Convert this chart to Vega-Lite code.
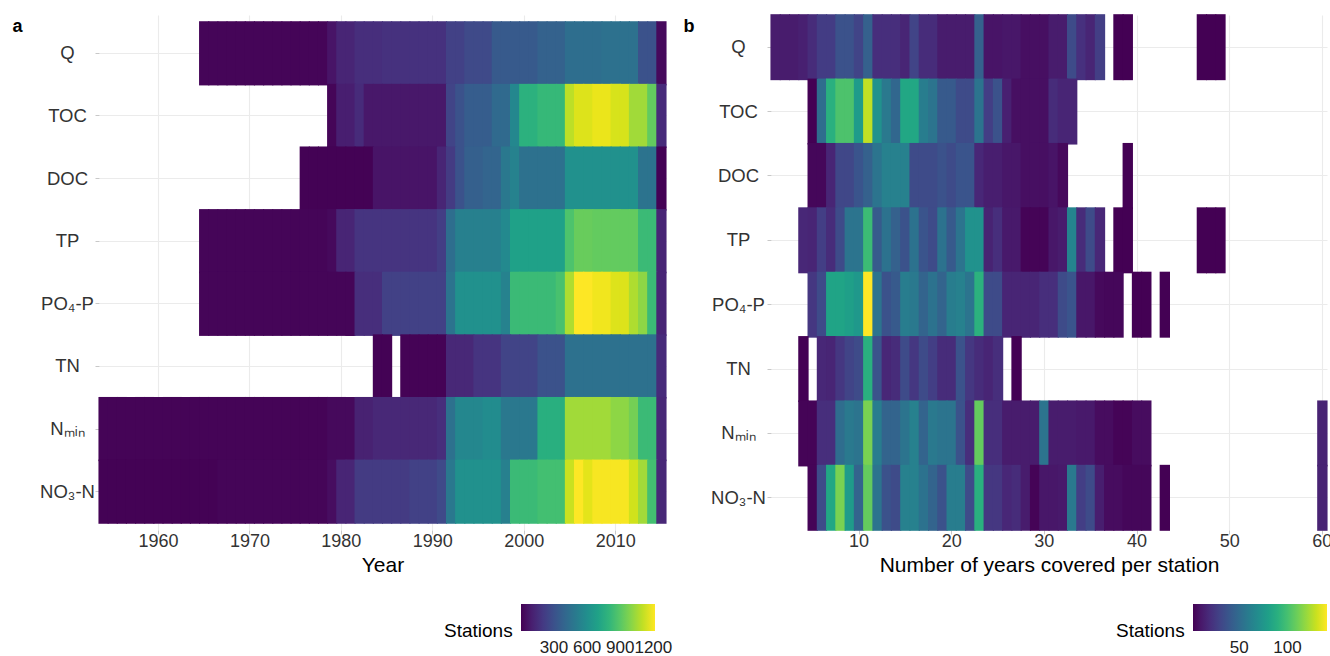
{
"$schema": "https://vega.github.io/schema/vega-lite/v6.json",
"background": "white",
"padding": {"left": 12, "top": 14, "right": 0, "bottom": 0},
"spacing": 10,
"config": {
  "font": "Liberation Sans",
  "view": {"stroke": null},
  "axis": {"domain": false, "grid": true, "zindex": 0, "gridColor": "#ebebeb", "gridWidth": 1.1, "tickColor": "#c8c8c8", "tickSize": 4, "labelColor": "#333333", "titleColor": "#000000", "labelFontSize": 18, "titleFontSize": 21, "titleFontWeight": "normal"},
  "legend": {"orient": "none", "type": "gradient", "direction": "horizontal", "gradientLength": 134, "gradientThickness": 27, "gradientStrokeWidth": 0, "titleOrient": "left", "titleAnchor": "end", "titleBaseline": "middle", "titleFontSize": 19, "titleFontWeight": "normal", "titleColor": "#000000", "titlePadding": 8, "labelFontSize": 17, "labelColor": "#222222", "labelOverlap": false, "gradientLabelOffset": 9, "labelOffset": 9, "padding": 0}
},
"datasets": {
"a": [
{"p":"Q","x":1965,"n":13},{"p":"Q","x":1966,"n":13},{"p":"Q","x":1967,"n":13},{"p":"Q","x":1968,"n":13},{"p":"Q","x":1969,"n":13},{"p":"Q","x":1970,"n":13},{"p":"Q","x":1971,"n":13},{"p":"Q","x":1972,"n":13},{"p":"Q","x":1973,"n":13},{"p":"Q","x":1974,"n":13},{"p":"Q","x":1975,"n":13},{"p":"Q","x":1976,"n":13},{"p":"Q","x":1977,"n":13},{"p":"Q","x":1978,"n":13},{"p":"Q","x":1979,"n":62},{"p":"Q","x":1980,"n":122},{"p":"Q","x":1981,"n":122},{"p":"Q","x":1982,"n":160},{"p":"Q","x":1983,"n":160},{"p":"Q","x":1984,"n":160},{"p":"Q","x":1985,"n":171},{"p":"Q","x":1986,"n":171},{"p":"Q","x":1987,"n":171},{"p":"Q","x":1988,"n":171},{"p":"Q","x":1989,"n":171},{"p":"Q","x":1990,"n":171},{"p":"Q","x":1991,"n":171},{"p":"Q","x":1992,"n":232},{"p":"Q","x":1993,"n":232},{"p":"Q","x":1994,"n":268},{"p":"Q","x":1995,"n":268},{"p":"Q","x":1996,"n":268},{"p":"Q","x":1997,"n":341},{"p":"Q","x":1998,"n":341},{"p":"Q","x":1999,"n":341},{"p":"Q","x":2000,"n":341},{"p":"Q","x":2001,"n":341},{"p":"Q","x":2002,"n":377},{"p":"Q","x":2003,"n":377},{"p":"Q","x":2004,"n":377},{"p":"Q","x":2005,"n":438},{"p":"Q","x":2006,"n":438},{"p":"Q","x":2007,"n":438},{"p":"Q","x":2008,"n":438},{"p":"Q","x":2009,"n":450},{"p":"Q","x":2010,"n":450},{"p":"Q","x":2011,"n":450},{"p":"Q","x":2012,"n":450},{"p":"Q","x":2013,"n":305},{"p":"Q","x":2014,"n":305},{"p":"Q","x":2015,"n":25},
{"p":"TOC","x":1979,"n":13},{"p":"TOC","x":1980,"n":98},{"p":"TOC","x":1981,"n":98},{"p":"TOC","x":1982,"n":147},{"p":"TOC","x":1983,"n":74},{"p":"TOC","x":1984,"n":74},{"p":"TOC","x":1985,"n":74},{"p":"TOC","x":1986,"n":74},{"p":"TOC","x":1987,"n":74},{"p":"TOC","x":1988,"n":74},{"p":"TOC","x":1989,"n":74},{"p":"TOC","x":1990,"n":74},{"p":"TOC","x":1991,"n":74},{"p":"TOC","x":1992,"n":244},{"p":"TOC","x":1993,"n":305},{"p":"TOC","x":1994,"n":353},{"p":"TOC","x":1995,"n":353},{"p":"TOC","x":1996,"n":353},{"p":"TOC","x":1997,"n":414},{"p":"TOC","x":1998,"n":414},{"p":"TOC","x":1999,"n":560},{"p":"TOC","x":2000,"n":778},{"p":"TOC","x":2001,"n":778},{"p":"TOC","x":2002,"n":814},{"p":"TOC","x":2003,"n":814},{"p":"TOC","x":2004,"n":814},{"p":"TOC","x":2005,"n":1094},{"p":"TOC","x":2006,"n":1154},{"p":"TOC","x":2007,"n":1154},{"p":"TOC","x":2008,"n":1178},{"p":"TOC","x":2009,"n":1178},{"p":"TOC","x":2010,"n":1142},{"p":"TOC","x":2011,"n":1142},{"p":"TOC","x":2012,"n":1045},{"p":"TOC","x":2013,"n":1045},{"p":"TOC","x":2014,"n":924},{"p":"TOC","x":2015,"n":147},
{"p":"DOC","x":1976,"n":5},{"p":"DOC","x":1977,"n":5},{"p":"DOC","x":1978,"n":5},{"p":"DOC","x":1979,"n":5},{"p":"DOC","x":1980,"n":5},{"p":"DOC","x":1981,"n":5},{"p":"DOC","x":1982,"n":5},{"p":"DOC","x":1983,"n":5},{"p":"DOC","x":1984,"n":62},{"p":"DOC","x":1985,"n":62},{"p":"DOC","x":1986,"n":62},{"p":"DOC","x":1987,"n":62},{"p":"DOC","x":1988,"n":62},{"p":"DOC","x":1989,"n":62},{"p":"DOC","x":1990,"n":62},{"p":"DOC","x":1991,"n":122},{"p":"DOC","x":1992,"n":207},{"p":"DOC","x":1993,"n":305},{"p":"DOC","x":1994,"n":365},{"p":"DOC","x":1995,"n":365},{"p":"DOC","x":1996,"n":390},{"p":"DOC","x":1997,"n":390},{"p":"DOC","x":1998,"n":487},{"p":"DOC","x":1999,"n":535},{"p":"DOC","x":2000,"n":450},{"p":"DOC","x":2001,"n":450},{"p":"DOC","x":2002,"n":450},{"p":"DOC","x":2003,"n":450},{"p":"DOC","x":2004,"n":450},{"p":"DOC","x":2005,"n":608},{"p":"DOC","x":2006,"n":608},{"p":"DOC","x":2007,"n":608},{"p":"DOC","x":2008,"n":608},{"p":"DOC","x":2009,"n":608},{"p":"DOC","x":2010,"n":608},{"p":"DOC","x":2011,"n":608},{"p":"DOC","x":2012,"n":608},{"p":"DOC","x":2013,"n":462},{"p":"DOC","x":2014,"n":462},{"p":"DOC","x":2015,"n":5},
{"p":"TP","x":1965,"n":13},{"p":"TP","x":1966,"n":13},{"p":"TP","x":1967,"n":13},{"p":"TP","x":1968,"n":13},{"p":"TP","x":1969,"n":13},{"p":"TP","x":1970,"n":13},{"p":"TP","x":1971,"n":13},{"p":"TP","x":1972,"n":13},{"p":"TP","x":1973,"n":13},{"p":"TP","x":1974,"n":13},{"p":"TP","x":1975,"n":13},{"p":"TP","x":1976,"n":13},{"p":"TP","x":1977,"n":13},{"p":"TP","x":1978,"n":13},{"p":"TP","x":1979,"n":25},{"p":"TP","x":1980,"n":122},{"p":"TP","x":1981,"n":122},{"p":"TP","x":1982,"n":183},{"p":"TP","x":1983,"n":183},{"p":"TP","x":1984,"n":183},{"p":"TP","x":1985,"n":183},{"p":"TP","x":1986,"n":183},{"p":"TP","x":1987,"n":183},{"p":"TP","x":1988,"n":183},{"p":"TP","x":1989,"n":183},{"p":"TP","x":1990,"n":183},{"p":"TP","x":1991,"n":220},{"p":"TP","x":1992,"n":438},{"p":"TP","x":1993,"n":523},{"p":"TP","x":1994,"n":523},{"p":"TP","x":1995,"n":523},{"p":"TP","x":1996,"n":523},{"p":"TP","x":1997,"n":523},{"p":"TP","x":1998,"n":572},{"p":"TP","x":1999,"n":693},{"p":"TP","x":2000,"n":693},{"p":"TP","x":2001,"n":693},{"p":"TP","x":2002,"n":693},{"p":"TP","x":2003,"n":693},{"p":"TP","x":2004,"n":693},{"p":"TP","x":2005,"n":875},{"p":"TP","x":2006,"n":935},{"p":"TP","x":2007,"n":935},{"p":"TP","x":2008,"n":924},{"p":"TP","x":2009,"n":924},{"p":"TP","x":2010,"n":924},{"p":"TP","x":2011,"n":924},{"p":"TP","x":2012,"n":924},{"p":"TP","x":2013,"n":827},{"p":"TP","x":2014,"n":827},{"p":"TP","x":2015,"n":122},
{"p":"PO₄-P","x":1965,"n":13},{"p":"PO₄-P","x":1966,"n":13},{"p":"PO₄-P","x":1967,"n":13},{"p":"PO₄-P","x":1968,"n":13},{"p":"PO₄-P","x":1969,"n":13},{"p":"PO₄-P","x":1970,"n":13},{"p":"PO₄-P","x":1971,"n":13},{"p":"PO₄-P","x":1972,"n":13},{"p":"PO₄-P","x":1973,"n":13},{"p":"PO₄-P","x":1974,"n":13},{"p":"PO₄-P","x":1975,"n":13},{"p":"PO₄-P","x":1976,"n":13},{"p":"PO₄-P","x":1977,"n":13},{"p":"PO₄-P","x":1978,"n":13},{"p":"PO₄-P","x":1979,"n":13},{"p":"PO₄-P","x":1980,"n":13},{"p":"PO₄-P","x":1981,"n":13},{"p":"PO₄-P","x":1982,"n":160},{"p":"PO₄-P","x":1983,"n":160},{"p":"PO₄-P","x":1984,"n":160},{"p":"PO₄-P","x":1985,"n":232},{"p":"PO₄-P","x":1986,"n":232},{"p":"PO₄-P","x":1987,"n":232},{"p":"PO₄-P","x":1988,"n":232},{"p":"PO₄-P","x":1989,"n":232},{"p":"PO₄-P","x":1990,"n":232},{"p":"PO₄-P","x":1991,"n":232},{"p":"PO₄-P","x":1992,"n":462},{"p":"PO₄-P","x":1993,"n":608},{"p":"PO₄-P","x":1994,"n":608},{"p":"PO₄-P","x":1995,"n":608},{"p":"PO₄-P","x":1996,"n":608},{"p":"PO₄-P","x":1997,"n":608},{"p":"PO₄-P","x":1998,"n":535},{"p":"PO₄-P","x":1999,"n":827},{"p":"PO₄-P","x":2000,"n":827},{"p":"PO₄-P","x":2001,"n":827},{"p":"PO₄-P","x":2002,"n":827},{"p":"PO₄-P","x":2003,"n":827},{"p":"PO₄-P","x":2004,"n":863},{"p":"PO₄-P","x":2005,"n":1069},{"p":"PO₄-P","x":2006,"n":1215},{"p":"PO₄-P","x":2007,"n":1215},{"p":"PO₄-P","x":2008,"n":1190},{"p":"PO₄-P","x":2009,"n":1190},{"p":"PO₄-P","x":2010,"n":1154},{"p":"PO₄-P","x":2011,"n":1154},{"p":"PO₄-P","x":2012,"n":1069},{"p":"PO₄-P","x":2013,"n":1009},{"p":"PO₄-P","x":2014,"n":827},{"p":"PO₄-P","x":2015,"n":122},
{"p":"TN","x":1984,"n":5},{"p":"TN","x":1985,"n":5},{"p":"TN","x":1987,"n":8},{"p":"TN","x":1988,"n":8},{"p":"TN","x":1989,"n":8},{"p":"TN","x":1990,"n":8},{"p":"TN","x":1991,"n":8},{"p":"TN","x":1992,"n":135},{"p":"TN","x":1993,"n":135},{"p":"TN","x":1994,"n":135},{"p":"TN","x":1995,"n":183},{"p":"TN","x":1996,"n":183},{"p":"TN","x":1997,"n":183},{"p":"TN","x":1998,"n":244},{"p":"TN","x":1999,"n":244},{"p":"TN","x":2000,"n":244},{"p":"TN","x":2001,"n":244},{"p":"TN","x":2002,"n":305},{"p":"TN","x":2003,"n":305},{"p":"TN","x":2004,"n":305},{"p":"TN","x":2005,"n":450},{"p":"TN","x":2006,"n":450},{"p":"TN","x":2007,"n":450},{"p":"TN","x":2008,"n":450},{"p":"TN","x":2009,"n":450},{"p":"TN","x":2010,"n":450},{"p":"TN","x":2011,"n":450},{"p":"TN","x":2012,"n":450},{"p":"TN","x":2013,"n":450},{"p":"TN","x":2014,"n":450},{"p":"TN","x":2015,"n":147},
{"p":"Nₘᵢₙ","x":1954,"n":10},{"p":"Nₘᵢₙ","x":1955,"n":10},{"p":"Nₘᵢₙ","x":1956,"n":10},{"p":"Nₘᵢₙ","x":1957,"n":10},{"p":"Nₘᵢₙ","x":1958,"n":10},{"p":"Nₘᵢₙ","x":1959,"n":10},{"p":"Nₘᵢₙ","x":1960,"n":10},{"p":"Nₘᵢₙ","x":1961,"n":10},{"p":"Nₘᵢₙ","x":1962,"n":10},{"p":"Nₘᵢₙ","x":1963,"n":10},{"p":"Nₘᵢₙ","x":1964,"n":10},{"p":"Nₘᵢₙ","x":1965,"n":10},{"p":"Nₘᵢₙ","x":1966,"n":10},{"p":"Nₘᵢₙ","x":1967,"n":10},{"p":"Nₘᵢₙ","x":1968,"n":10},{"p":"Nₘᵢₙ","x":1969,"n":10},{"p":"Nₘᵢₙ","x":1970,"n":10},{"p":"Nₘᵢₙ","x":1971,"n":10},{"p":"Nₘᵢₙ","x":1972,"n":10},{"p":"Nₘᵢₙ","x":1973,"n":10},{"p":"Nₘᵢₙ","x":1974,"n":10},{"p":"Nₘᵢₙ","x":1975,"n":10},{"p":"Nₘᵢₙ","x":1976,"n":10},{"p":"Nₘᵢₙ","x":1977,"n":10},{"p":"Nₘᵢₙ","x":1978,"n":10},{"p":"Nₘᵢₙ","x":1979,"n":25},{"p":"Nₘᵢₙ","x":1980,"n":25},{"p":"Nₘᵢₙ","x":1981,"n":25},{"p":"Nₘᵢₙ","x":1982,"n":110},{"p":"Nₘᵢₙ","x":1983,"n":110},{"p":"Nₘᵢₙ","x":1984,"n":135},{"p":"Nₘᵢₙ","x":1985,"n":135},{"p":"Nₘᵢₙ","x":1986,"n":135},{"p":"Nₘᵢₙ","x":1987,"n":135},{"p":"Nₘᵢₙ","x":1988,"n":135},{"p":"Nₘᵢₙ","x":1989,"n":135},{"p":"Nₘᵢₙ","x":1990,"n":135},{"p":"Nₘᵢₙ","x":1991,"n":160},{"p":"Nₘᵢₙ","x":1992,"n":450},{"p":"Nₘᵢₙ","x":1993,"n":560},{"p":"Nₘᵢₙ","x":1994,"n":560},{"p":"Nₘᵢₙ","x":1995,"n":560},{"p":"Nₘᵢₙ","x":1996,"n":584},{"p":"Nₘᵢₙ","x":1997,"n":584},{"p":"Nₘᵢₙ","x":1998,"n":487},{"p":"Nₘᵢₙ","x":1999,"n":487},{"p":"Nₘᵢₙ","x":2000,"n":487},{"p":"Nₘᵢₙ","x":2001,"n":487},{"p":"Nₘᵢₙ","x":2002,"n":766},{"p":"Nₘᵢₙ","x":2003,"n":766},{"p":"Nₘᵢₙ","x":2004,"n":766},{"p":"Nₘᵢₙ","x":2005,"n":1045},{"p":"Nₘᵢₙ","x":2006,"n":1045},{"p":"Nₘᵢₙ","x":2007,"n":1045},{"p":"Nₘᵢₙ","x":2008,"n":1045},{"p":"Nₘᵢₙ","x":2009,"n":1045},{"p":"Nₘᵢₙ","x":2010,"n":1009},{"p":"Nₘᵢₙ","x":2011,"n":1009},{"p":"Nₘᵢₙ","x":2012,"n":960},{"p":"Nₘᵢₙ","x":2013,"n":827},{"p":"Nₘᵢₙ","x":2014,"n":827},{"p":"Nₘᵢₙ","x":2015,"n":135},
{"p":"NO₃-N","x":1954,"n":5},{"p":"NO₃-N","x":1955,"n":5},{"p":"NO₃-N","x":1956,"n":5},{"p":"NO₃-N","x":1957,"n":5},{"p":"NO₃-N","x":1958,"n":5},{"p":"NO₃-N","x":1959,"n":5},{"p":"NO₃-N","x":1960,"n":5},{"p":"NO₃-N","x":1961,"n":5},{"p":"NO₃-N","x":1962,"n":5},{"p":"NO₃-N","x":1963,"n":5},{"p":"NO₃-N","x":1964,"n":5},{"p":"NO₃-N","x":1965,"n":5},{"p":"NO₃-N","x":1966,"n":5},{"p":"NO₃-N","x":1967,"n":15},{"p":"NO₃-N","x":1968,"n":15},{"p":"NO₃-N","x":1969,"n":15},{"p":"NO₃-N","x":1970,"n":15},{"p":"NO₃-N","x":1971,"n":15},{"p":"NO₃-N","x":1972,"n":15},{"p":"NO₃-N","x":1973,"n":15},{"p":"NO₃-N","x":1974,"n":15},{"p":"NO₃-N","x":1975,"n":15},{"p":"NO₃-N","x":1976,"n":15},{"p":"NO₃-N","x":1977,"n":15},{"p":"NO₃-N","x":1978,"n":15},{"p":"NO₃-N","x":1979,"n":37},{"p":"NO₃-N","x":1980,"n":122},{"p":"NO₃-N","x":1981,"n":122},{"p":"NO₃-N","x":1982,"n":207},{"p":"NO₃-N","x":1983,"n":207},{"p":"NO₃-N","x":1984,"n":207},{"p":"NO₃-N","x":1985,"n":207},{"p":"NO₃-N","x":1986,"n":207},{"p":"NO₃-N","x":1987,"n":207},{"p":"NO₃-N","x":1988,"n":232},{"p":"NO₃-N","x":1989,"n":232},{"p":"NO₃-N","x":1990,"n":232},{"p":"NO₃-N","x":1991,"n":268},{"p":"NO₃-N","x":1992,"n":487},{"p":"NO₃-N","x":1993,"n":608},{"p":"NO₃-N","x":1994,"n":608},{"p":"NO₃-N","x":1995,"n":608},{"p":"NO₃-N","x":1996,"n":608},{"p":"NO₃-N","x":1997,"n":608},{"p":"NO₃-N","x":1998,"n":523},{"p":"NO₃-N","x":1999,"n":827},{"p":"NO₃-N","x":2000,"n":827},{"p":"NO₃-N","x":2001,"n":827},{"p":"NO₃-N","x":2002,"n":851},{"p":"NO₃-N","x":2003,"n":851},{"p":"NO₃-N","x":2004,"n":851},{"p":"NO₃-N","x":2005,"n":1118},{"p":"NO₃-N","x":2006,"n":1215},{"p":"NO₃-N","x":2007,"n":1166},{"p":"NO₃-N","x":2008,"n":1203},{"p":"NO₃-N","x":2009,"n":1203},{"p":"NO₃-N","x":2010,"n":1203},{"p":"NO₃-N","x":2011,"n":1203},{"p":"NO₃-N","x":2012,"n":1130},{"p":"NO₃-N","x":2013,"n":1045},{"p":"NO₃-N","x":2014,"n":851},{"p":"NO₃-N","x":2015,"n":135}
],
"b": [
{"p":"Q","x":1,"n":12},{"p":"Q","x":2,"n":12},{"p":"Q","x":3,"n":12},{"p":"Q","x":4,"n":14},{"p":"Q","x":5,"n":19},{"p":"Q","x":6,"n":26},{"p":"Q","x":7,"n":26},{"p":"Q","x":8,"n":37},{"p":"Q","x":9,"n":37},{"p":"Q","x":10,"n":30},{"p":"Q","x":11,"n":44},{"p":"Q","x":12,"n":20},{"p":"Q","x":13,"n":20},{"p":"Q","x":14,"n":20},{"p":"Q","x":15,"n":16},{"p":"Q","x":16,"n":30},{"p":"Q","x":17,"n":19},{"p":"Q","x":18,"n":19},{"p":"Q","x":19,"n":12},{"p":"Q","x":20,"n":12},{"p":"Q","x":21,"n":12},{"p":"Q","x":22,"n":12},{"p":"Q","x":23,"n":44},{"p":"Q","x":24,"n":9},{"p":"Q","x":25,"n":9},{"p":"Q","x":26,"n":10},{"p":"Q","x":27,"n":10},{"p":"Q","x":28,"n":7},{"p":"Q","x":29,"n":7},{"p":"Q","x":30,"n":7},{"p":"Q","x":31,"n":12},{"p":"Q","x":32,"n":12},{"p":"Q","x":33,"n":33},{"p":"Q","x":34,"n":21},{"p":"Q","x":35,"n":16},{"p":"Q","x":36,"n":27},{"p":"Q","x":38,"n":2},{"p":"Q","x":39,"n":2},{"p":"Q","x":47,"n":2},{"p":"Q","x":48,"n":2},{"p":"Q","x":49,"n":2},
{"p":"TOC","x":5,"n":2},{"p":"TOC","x":6,"n":51},{"p":"TOC","x":7,"n":90},{"p":"TOC","x":8,"n":102},{"p":"TOC","x":9,"n":102},{"p":"TOC","x":10,"n":78},{"p":"TOC","x":11,"n":128},{"p":"TOC","x":12,"n":72},{"p":"TOC","x":13,"n":58},{"p":"TOC","x":14,"n":48},{"p":"TOC","x":15,"n":85},{"p":"TOC","x":16,"n":85},{"p":"TOC","x":17,"n":60},{"p":"TOC","x":18,"n":55},{"p":"TOC","x":19,"n":41},{"p":"TOC","x":20,"n":41},{"p":"TOC","x":21,"n":33},{"p":"TOC","x":22,"n":33},{"p":"TOC","x":23,"n":55},{"p":"TOC","x":24,"n":27},{"p":"TOC","x":25,"n":37},{"p":"TOC","x":26,"n":14},{"p":"TOC","x":27,"n":7},{"p":"TOC","x":28,"n":7},{"p":"TOC","x":29,"n":7},{"p":"TOC","x":30,"n":7},{"p":"TOC","x":31,"n":19},{"p":"TOC","x":32,"n":16},{"p":"TOC","x":33,"n":16},
{"p":"DOC","x":5,"n":4},{"p":"DOC","x":6,"n":4},{"p":"DOC","x":7,"n":16},{"p":"DOC","x":8,"n":31},{"p":"DOC","x":9,"n":31},{"p":"DOC","x":10,"n":38},{"p":"DOC","x":11,"n":44},{"p":"DOC","x":12,"n":55},{"p":"DOC","x":13,"n":62},{"p":"DOC","x":14,"n":62},{"p":"DOC","x":15,"n":62},{"p":"DOC","x":16,"n":33},{"p":"DOC","x":17,"n":33},{"p":"DOC","x":18,"n":33},{"p":"DOC","x":19,"n":37},{"p":"DOC","x":20,"n":33},{"p":"DOC","x":21,"n":38},{"p":"DOC","x":22,"n":38},{"p":"DOC","x":23,"n":17},{"p":"DOC","x":24,"n":13},{"p":"DOC","x":25,"n":13},{"p":"DOC","x":26,"n":10},{"p":"DOC","x":27,"n":10},{"p":"DOC","x":28,"n":7},{"p":"DOC","x":29,"n":7},{"p":"DOC","x":30,"n":7},{"p":"DOC","x":31,"n":9},{"p":"DOC","x":32,"n":5},{"p":"DOC","x":39,"n":2},
{"p":"TP","x":4,"n":17},{"p":"TP","x":5,"n":16},{"p":"TP","x":6,"n":27},{"p":"TP","x":7,"n":19},{"p":"TP","x":8,"n":33},{"p":"TP","x":9,"n":55},{"p":"TP","x":10,"n":55},{"p":"TP","x":11,"n":97},{"p":"TP","x":12,"n":41},{"p":"TP","x":13,"n":54},{"p":"TP","x":14,"n":44},{"p":"TP","x":15,"n":37},{"p":"TP","x":16,"n":54},{"p":"TP","x":17,"n":38},{"p":"TP","x":18,"n":33},{"p":"TP","x":19,"n":54},{"p":"TP","x":20,"n":41},{"p":"TP","x":21,"n":55},{"p":"TP","x":22,"n":72},{"p":"TP","x":23,"n":72},{"p":"TP","x":24,"n":15},{"p":"TP","x":25,"n":20},{"p":"TP","x":26,"n":11},{"p":"TP","x":27,"n":11},{"p":"TP","x":28,"n":3},{"p":"TP","x":29,"n":3},{"p":"TP","x":30,"n":3},{"p":"TP","x":31,"n":10},{"p":"TP","x":32,"n":12},{"p":"TP","x":33,"n":64},{"p":"TP","x":34,"n":19},{"p":"TP","x":35,"n":33},{"p":"TP","x":36,"n":17},{"p":"TP","x":38,"n":2},{"p":"TP","x":39,"n":2},{"p":"TP","x":47,"n":2},{"p":"TP","x":48,"n":2},{"p":"TP","x":49,"n":2},
{"p":"PO₄-P","x":5,"n":24},{"p":"PO₄-P","x":6,"n":33},{"p":"PO₄-P","x":7,"n":83},{"p":"PO₄-P","x":8,"n":83},{"p":"PO₄-P","x":9,"n":80},{"p":"PO₄-P","x":10,"n":76},{"p":"PO₄-P","x":11,"n":141},{"p":"PO₄-P","x":12,"n":55},{"p":"PO₄-P","x":13,"n":37},{"p":"PO₄-P","x":14,"n":41},{"p":"PO₄-P","x":15,"n":60},{"p":"PO₄-P","x":16,"n":58},{"p":"PO₄-P","x":17,"n":46},{"p":"PO₄-P","x":18,"n":54},{"p":"PO₄-P","x":19,"n":46},{"p":"PO₄-P","x":20,"n":60},{"p":"PO₄-P","x":21,"n":62},{"p":"PO₄-P","x":22,"n":55},{"p":"PO₄-P","x":23,"n":91},{"p":"PO₄-P","x":24,"n":33},{"p":"PO₄-P","x":25,"n":33},{"p":"PO₄-P","x":26,"n":16},{"p":"PO₄-P","x":27,"n":16},{"p":"PO₄-P","x":28,"n":16},{"p":"PO₄-P","x":29,"n":16},{"p":"PO₄-P","x":30,"n":20},{"p":"PO₄-P","x":31,"n":20},{"p":"PO₄-P","x":32,"n":33},{"p":"PO₄-P","x":33,"n":38},{"p":"PO₄-P","x":34,"n":10},{"p":"PO₄-P","x":35,"n":10},{"p":"PO₄-P","x":36,"n":5},{"p":"PO₄-P","x":37,"n":4},{"p":"PO₄-P","x":38,"n":4},{"p":"PO₄-P","x":40,"n":2},{"p":"PO₄-P","x":41,"n":2},{"p":"PO₄-P","x":43,"n":2},
{"p":"TN","x":4,"n":2},{"p":"TN","x":6,"n":17},{"p":"TN","x":7,"n":16},{"p":"TN","x":8,"n":24},{"p":"TN","x":9,"n":30},{"p":"TN","x":10,"n":33},{"p":"TN","x":11,"n":90},{"p":"TN","x":12,"n":37},{"p":"TN","x":13,"n":17},{"p":"TN","x":14,"n":19},{"p":"TN","x":15,"n":33},{"p":"TN","x":16,"n":24},{"p":"TN","x":17,"n":33},{"p":"TN","x":18,"n":27},{"p":"TN","x":19,"n":19},{"p":"TN","x":20,"n":19},{"p":"TN","x":21,"n":37},{"p":"TN","x":22,"n":24},{"p":"TN","x":23,"n":19},{"p":"TN","x":24,"n":16},{"p":"TN","x":25,"n":20},{"p":"TN","x":27,"n":2},
{"p":"Nₘᵢₙ","x":4,"n":3},{"p":"Nₘᵢₙ","x":5,"n":3},{"p":"Nₘᵢₙ","x":6,"n":20},{"p":"Nₘᵢₙ","x":7,"n":20},{"p":"Nₘᵢₙ","x":8,"n":51},{"p":"Nₘᵢₙ","x":9,"n":58},{"p":"Nₘᵢₙ","x":10,"n":55},{"p":"Nₘᵢₙ","x":11,"n":113},{"p":"Nₘᵢₙ","x":12,"n":60},{"p":"Nₘᵢₙ","x":13,"n":46},{"p":"Nₘᵢₙ","x":14,"n":46},{"p":"Nₘᵢₙ","x":15,"n":55},{"p":"Nₘᵢₙ","x":16,"n":62},{"p":"Nₘᵢₙ","x":17,"n":46},{"p":"Nₘᵢₙ","x":18,"n":58},{"p":"Nₘᵢₙ","x":19,"n":55},{"p":"Nₘᵢₙ","x":20,"n":55},{"p":"Nₘᵢₙ","x":21,"n":37},{"p":"Nₘᵢₙ","x":22,"n":20},{"p":"Nₘᵢₙ","x":23,"n":108},{"p":"Nₘᵢₙ","x":24,"n":20},{"p":"Nₘᵢₙ","x":25,"n":20},{"p":"Nₘᵢₙ","x":26,"n":12},{"p":"Nₘᵢₙ","x":27,"n":12},{"p":"Nₘᵢₙ","x":28,"n":12},{"p":"Nₘᵢₙ","x":29,"n":12},{"p":"Nₘᵢₙ","x":30,"n":55},{"p":"Nₘᵢₙ","x":31,"n":12},{"p":"Nₘᵢₙ","x":32,"n":12},{"p":"Nₘᵢₙ","x":33,"n":12},{"p":"Nₘᵢₙ","x":34,"n":11},{"p":"Nₘᵢₙ","x":35,"n":11},{"p":"Nₘᵢₙ","x":36,"n":6},{"p":"Nₘᵢₙ","x":37,"n":6},{"p":"Nₘᵢₙ","x":38,"n":3},{"p":"Nₘᵢₙ","x":39,"n":3},{"p":"Nₘᵢₙ","x":40,"n":6},{"p":"Nₘᵢₙ","x":41,"n":6},{"p":"Nₘᵢₙ","x":60,"n":15},
{"p":"NO₃-N","x":5,"n":3},{"p":"NO₃-N","x":6,"n":33},{"p":"NO₃-N","x":7,"n":85},{"p":"NO₃-N","x":8,"n":113},{"p":"NO₃-N","x":9,"n":78},{"p":"NO₃-N","x":10,"n":46},{"p":"NO₃-N","x":11,"n":108},{"p":"NO₃-N","x":12,"n":55},{"p":"NO₃-N","x":13,"n":37},{"p":"NO₃-N","x":14,"n":33},{"p":"NO₃-N","x":15,"n":62},{"p":"NO₃-N","x":16,"n":62},{"p":"NO₃-N","x":17,"n":54},{"p":"NO₃-N","x":18,"n":46},{"p":"NO₃-N","x":19,"n":37},{"p":"NO₃-N","x":20,"n":60},{"p":"NO₃-N","x":21,"n":60},{"p":"NO₃-N","x":22,"n":33},{"p":"NO₃-N","x":23,"n":90},{"p":"NO₃-N","x":24,"n":24},{"p":"NO₃-N","x":25,"n":24},{"p":"NO₃-N","x":26,"n":17},{"p":"NO₃-N","x":27,"n":19},{"p":"NO₃-N","x":28,"n":12},{"p":"NO₃-N","x":29,"n":3},{"p":"NO₃-N","x":30,"n":10},{"p":"NO₃-N","x":31,"n":10},{"p":"NO₃-N","x":32,"n":11},{"p":"NO₃-N","x":33,"n":58},{"p":"NO₃-N","x":34,"n":27},{"p":"NO₃-N","x":35,"n":33},{"p":"NO₃-N","x":36,"n":13},{"p":"NO₃-N","x":37,"n":6},{"p":"NO₃-N","x":38,"n":6},{"p":"NO₃-N","x":39,"n":4},{"p":"NO₃-N","x":40,"n":4},{"p":"NO₃-N","x":41,"n":4},{"p":"NO₃-N","x":43,"n":2},{"p":"NO₃-N","x":60,"n":15}
]
},
"resolve": {"scale": {"color": "independent"}, "legend": {"color": "independent"}},
"hconcat": [
{
  "data": {"name": "a"},
  "width": 567, "height": 515,
  "mark": {"type": "rect", "width": {"band": 1.12}, "height": {"band": 1.025}},
  "encoding": {
    "x": {"field": "x", "type": "ordinal", "scale": {"domain": [1954,1955,1956,1957,1958,1959,1960,1961,1962,1963,1964,1965,1966,1967,1968,1969,1970,1971,1972,1973,1974,1975,1976,1977,1978,1979,1980,1981,1982,1983,1984,1985,1986,1987,1988,1989,1990,1991,1992,1993,1994,1995,1996,1997,1998,1999,2000,2001,2002,2003,2004,2005,2006,2007,2008,2009,2010,2011,2012,2013,2014,2015], "paddingInner": 0, "paddingOuter": 0}, "axis": {"values": [1960,1970,1980,1990,2000,2010], "labelAngle": 0, "title": "Year", "labelPadding": -2, "titlePadding": 4, "zindex": 0}},
    "y": {"field": "p", "type": "nominal", "scale": {"domain": ["Q","TOC","DOC","TP","PO₄-P","TN","Nₘᵢₙ","NO₃-N"], "paddingInner": 0, "paddingOuter": 0.112}, "axis": {"title": "a", "titleAngle": 0, "titleX": -87, "titleY": 16, "titleAlign": "left", "titleBaseline": "alphabetic", "titleFontWeight": "bold", "titleFontSize": 18, "labelAlign": "center", "labelPadding": 28, "labelFontSize": 18.5, "zindex": 0}},
    "color": {"field": "n", "type": "quantitative", "scale": {"scheme": "viridis", "domain": [1, 1215]}, "legend": {"title": "Stations", "legendX": 345, "legendY": 589, "values": [300, 600, 900, 1200], "format": "d"}}
  }
},
{
  "data": {"name": "b"},
  "width": 556, "height": 515,
  "mark": {"type": "rect", "width": {"band": 1.12}, "height": {"band": 1.025}},
  "encoding": {
    "x": {"field": "x", "type": "ordinal", "scale": {"domain": [1,2,3,4,5,6,7,8,9,10,11,12,13,14,15,16,17,18,19,20,21,22,23,24,25,26,27,28,29,30,31,32,33,34,35,36,37,38,39,40,41,42,43,44,45,46,47,48,49,50,51,52,53,54,55,56,57,58,59,60], "paddingInner": 0, "paddingOuter": 0}, "axis": {"values": [10,20,30,40,50,60], "labelAngle": 0, "title": "Number of years covered per station", "labelPadding": -2, "titlePadding": 4, "zindex": 0}},
    "y": {"field": "p", "type": "nominal", "scale": {"domain": ["Q","TOC","DOC","TP","PO₄-P","TN","Nₘᵢₙ","NO₃-N"], "paddingInner": 0, "paddingOuter": 0}, "axis": {"title": "b", "titleAngle": 0, "titleX": -88, "titleY": 16, "titleAlign": "left", "titleBaseline": "alphabetic", "titleFontWeight": "bold", "titleFontSize": 18, "labelAlign": "center", "labelPadding": 29, "labelFontSize": 18.5, "zindex": 0}},
    "color": {"field": "n", "type": "quantitative", "scale": {"scheme": "viridis", "domain": [2, 141]}, "legend": {"title": "Stations", "legendX": 345, "legendY": 589, "values": [50, 100], "format": "d"}}
  }
}
]
}
